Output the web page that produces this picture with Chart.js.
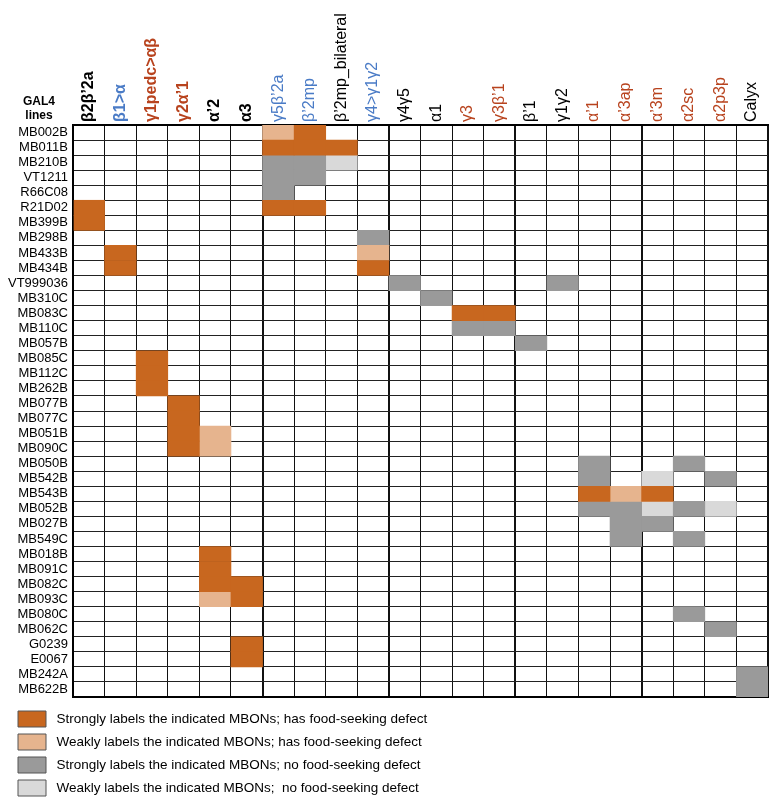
<!DOCTYPE html>
<html>
<head>
<meta charset="utf-8">
<script src="https://cdn.jsdelivr.net/npm/chart.js@4.4.0/dist/chart.umd.min.js"></script>
<style>
  body { margin: 0; background: #fff; }
  #wrap { width: 780px; height: 809px; }
</style>
</head>
<body>
<div id="wrap"><canvas id="mbonChart"></canvas></div>
<script>
const lines = ['MB002B', 'MB011B', 'MB210B', 'VT1211', 'R66C08', 'R21D02', 'MB399B', 'MB298B',
    'MB433B', 'MB434B', 'VT999036', 'MB310C', 'MB083C', 'MB110C', 'MB057B', 'MB085C', 'MB112C',
    'MB262B', 'MB077B', 'MB077C', 'MB051B', 'MB090C', 'MB050B', 'MB542B', 'MB543B', 'MB052B',
    'MB027B', 'MB549C', 'MB018B', 'MB091C', 'MB082C', 'MB093C', 'MB080C', 'MB062C', 'G0239',
    'E0067', 'MB242A', 'MB622B'];

const regions = ['β2β’2a', 'β1>α', 'γ1pedc>αβ', 'γ2α’1', 'α’2', 'α3', 'γ5β’2a', 'β’2mp',
    'β’2mp_bilateral', 'γ4>γ1γ2', 'γ4γ5', 'α1', 'γ3', 'γ3β’1', 'β’1', 'γ1γ2', 'α’1', 'α’3ap',
    'α’3m', 'α2sc', 'α2p3p', 'Calyx'];

const categories = [
    'Strongly labels the indicated MBONs; has food-seeking defect',
    'Weakly labels the indicated MBONs; has food-seeking defect',
    'Strongly labels the indicated MBONs; no food-seeking defect',
    'Weakly labels the indicated MBONs;  no food-seeking defect'
];

// [line, region] pairs for each category
const strongDefect = [
    ['MB002B', 'β’2mp'],
    ['MB011B', 'γ5β’2a'], ['MB011B', 'β’2mp'], ['MB011B', 'β’2mp_bilateral'],
    ['R21D02', 'β2β’2a'], ['R21D02', 'γ5β’2a'], ['R21D02', 'β’2mp'],
    ['MB399B', 'β2β’2a'],
    ['MB433B', 'β1>α'], ['MB434B', 'β1>α'], ['MB434B', 'γ4>γ1γ2'],
    ['MB083C', 'γ3'], ['MB083C', 'γ3β’1'],
    ['MB085C', 'γ1pedc>αβ'], ['MB112C', 'γ1pedc>αβ'], ['MB262B', 'γ1pedc>αβ'],
    ['MB077B', 'γ2α’1'], ['MB077C', 'γ2α’1'], ['MB051B', 'γ2α’1'], ['MB090C', 'γ2α’1'],
    ['MB543B', 'α’1'], ['MB543B', 'α’3m'],
    ['MB018B', 'α’2'], ['MB091C', 'α’2'], ['MB082C', 'α’2'],
    ['MB082C', 'α3'], ['MB093C', 'α3'], ['G0239', 'α3'], ['E0067', 'α3']
];
const weakDefect = [
    ['MB002B', 'γ5β’2a'],
    ['MB433B', 'γ4>γ1γ2'],
    ['MB051B', 'α’2'], ['MB090C', 'α’2'],
    ['MB543B', 'α’3ap'],
    ['MB093C', 'α’2']
];
const strongNone = [
    ['MB210B', 'γ5β’2a'], ['MB210B', 'β’2mp'],
    ['VT1211', 'γ5β’2a'], ['VT1211', 'β’2mp'],
    ['R66C08', 'γ5β’2a'],
    ['MB298B', 'γ4>γ1γ2'],
    ['VT999036', 'γ4γ5'], ['VT999036', 'γ1γ2'],
    ['MB310C', 'α1'],
    ['MB110C', 'γ3'], ['MB110C', 'γ3β’1'],
    ['MB057B', 'β’1'],
    ['MB050B', 'α’1'], ['MB050B', 'α2sc'],
    ['MB542B', 'α’1'], ['MB542B', 'α2p3p'],
    ['MB052B', 'α’1'], ['MB052B', 'α’3ap'], ['MB052B', 'α2sc'],
    ['MB027B', 'α’3ap'], ['MB027B', 'α’3m'],
    ['MB549C', 'α’3ap'], ['MB549C', 'α2sc'],
    ['MB080C', 'α2sc'],
    ['MB062C', 'α2p3p'],
    ['MB242A', 'Calyx'], ['MB622B', 'Calyx']
];
const weakNone = [
    ['MB210B', 'β’2mp_bilateral'],
    ['MB542B', 'α’3m'],
    ['MB052B', 'α’3m'], ['MB052B', 'α2p3p']
];

const cellSets = [strongDefect, weakDefect, strongNone, weakNone];
const cellColors = ['#c8671f', '#e6b48e', '#9a9a9a', '#d9d9d9'];

// header look: k = black, b = blue, r = red; bold for the first six columns
const headerInk = ['k', 'b', 'r', 'r', 'k', 'k', 'b', 'b', 'k', 'b', 'k', 'k', 'r', 'r',
    'k', 'k', 'r', 'r', 'r', 'r', 'r', 'k'];
const inkColors = { k: '#000000', b: '#4a7bc6', r: '#b8431e' };
const groupEdges = [0, 6, 10, 14, 18, 22];

Chart.defaults.font.family = "'Liberation Sans', Arial, Helvetica, sans-serif";
Chart.defaults.color = '#000';

const gal4Label = {
    id: 'gal4Label',
    afterDraw(chart) {
        const { ctx, chartArea } = chart;
        ctx.save();
        ctx.font = "bold 12px 'Liberation Sans', Arial, sans-serif";
        ctx.fillStyle = '#000';
        ctx.textAlign = 'center';
        ctx.fillText('GAL4', chartArea.left - 34, chartArea.top - 23);
        ctx.fillText('lines', chartArea.left - 34, chartArea.top - 9);
        ctx.restore();
    }
};

// move the legend in from the page edge (the row labels need the full left margin)
const legendIndent = {
    id: 'legendIndent',
    afterLayout(chart) {
        chart.legend.left += 11;
    }
};

const datasets = cellSets.map((cells, i) => ({
    label: categories[i],
    data: cells.map(([line, region]) => {
        const c = regions.indexOf(region);
        return { y: line, x: [c, c + 1] };
    }),
    backgroundColor: cellColors[i],
    borderWidth: 0,
    barPercentage: 1,
    categoryPercentage: 1,
    grouped: false
}));

new Chart(document.getElementById('mbonChart'), {
    type: 'bar',
    data: { labels: lines, datasets: datasets },
    options: {
        indexAxis: 'y',
        responsive: true,
        maintainAspectRatio: false,
        animation: false,
        layout: { padding: { left: 0, right: 12, top: 0, bottom: 3 } },
        scales: {
            x: {
                type: 'linear',
                min: 0,
                max: 22,
                z: 1,
                ticks: { display: false, stepSize: 1, maxTicksLimit: 40, autoSkip: false },
                grid: {
                    color: '#111',
                    drawTicks: false,
                    lineWidth: (c) => groupEdges.includes(c.tick.value) ? 2 : 1
                },
                border: { display: true, color: '#000', width: 2 },
                afterFit: (scale) => { scale.height = 7; }
            },
            xTop: {
                type: 'category',
                position: 'top',
                labels: regions,
                offset: true,
                grid: { display: false, drawTicks: false },
                border: { display: true, color: '#000', width: 2 },
                ticks: {
                    autoSkip: false,
                    minRotation: 90,
                    maxRotation: 90,
                    padding: 3,
                    labelOffset: 19,
                    color: (c) => inkColors[headerInk[c.index]],
                    font: (c) => ({ size: 16, weight: c.index < 6 ? 'bold' : 'normal' })
                },
                afterFit: (scale) => { scale.height = 125; }
            },
            y: {
                type: 'category',
                z: 1,
                offset: true,
                grid: { color: '#222', lineWidth: 1, drawTicks: false, offset: true },
                border: { display: true, color: '#000', width: 2 },
                ticks: { autoSkip: false, padding: 5, font: { size: 13 }, color: '#000' },
                afterFit: (scale) => { scale.width = 73; }
            }
        },
        plugins: {
            tooltip: { enabled: false },
            legend: {
                position: 'bottom',
                align: 'start',
                onClick: null,
                labels: {
                    boxWidth: 28,
                    boxHeight: 16,
                    padding: 7,
                    font: { size: 13.5 },
                    color: '#111',
                    generateLabels: (chart) => chart.data.datasets.map((ds, i) => ({
                        text: ' ' + ds.label,
                        fillStyle: ds.backgroundColor,
                        strokeStyle: '#555',
                        lineWidth: 1,
                        datasetIndex: i
                    }))
                }
            }
        }
    },
    plugins: [gal4Label, legendIndent]
});
</script>
</body>
</html>
